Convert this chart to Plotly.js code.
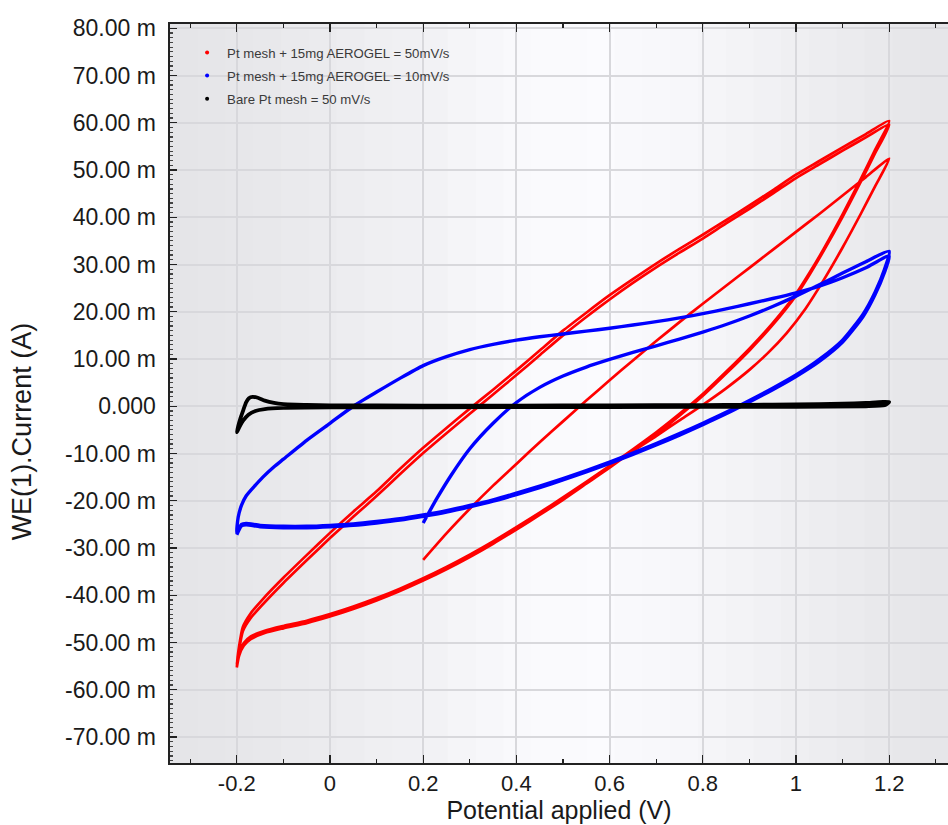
<!DOCTYPE html>
<html>
<head>
<meta charset="utf-8">
<script src="https://cdn.plot.ly/plotly-3.0.1.min.js"></script>
<style>
html,body{margin:0;padding:0;background:#fff;}
#chart{width:948px;height:825px;}
</style>
</head>
<body>
<div id="chart"></div>
<script>
// ---------- DATA (current in mA, potential in V) ----------
const seriesNames = [
  "Pt mesh + 15mg AEROGEL = 50mV/s",
  "Pt mesh + 15mg AEROGEL = 10mV/s",
  "Bare Pt mesh = 50 mV/s"
];

// Red: Pt mesh + aerogel, 50 mV/s (scan order)
const redX = [
  // scan 1 forward from 0.2
  0.2,0.25,0.3,0.35,0.4,0.45,0.5,0.55,0.6,0.65,0.7,0.75,0.8,0.85,0.9,0.95,1.0,1.05,1.1,1.15,1.2,
  // reverse 1
  1.17,1.14,1.1,1.06,1.02,0.98,0.94,0.9,0.85,0.8,0.75,0.7,0.65,
  0.6,0.55,0.5,0.45,0.4,0.35,0.3,0.25,0.2,0.15,0.1,0.05,0,-0.05,-0.1,-0.14,-0.17,-0.185,-0.195,-0.2,
  // forward A
  -0.195,-0.187,-0.17,-0.144,-0.1,-0.05,0,0.05,0.1,0.15,0.2,0.25,0.3,0.35,0.4,0.45,0.5,0.55,0.6,0.65,0.7,0.75,0.8,0.85,0.9,0.95,1.0,1.05,1.1,1.15,1.2,
  // reverse A
  1.17,1.14,1.1,1.06,1.03,1.0,0.95,0.9,0.85,0.8,0.75,0.7,0.65,
  0.6,0.55,0.5,0.45,0.4,0.35,0.3,0.25,0.2,0.15,0.1,0.05,0,-0.05,-0.1,-0.14,-0.17,-0.185,-0.195,-0.2,
  // forward B
  -0.195,-0.187,-0.17,-0.144,-0.1,-0.05,0,0.05,0.1,0.15,0.2,0.25,0.3,0.35,0.4,0.45,0.5,0.55,0.6,0.65,0.7,0.75,0.8,0.85,0.9,0.95,1.0,1.05,1.1,1.15,1.2,
  // reverse B
  1.17,1.14,1.1,1.06,1.03,1.0,0.95,0.9,0.85,0.8,0.75,0.7,0.65,
  0.6,0.55,0.5,0.45,0.4,0.35,0.3,0.25,0.2,0.15,0.1,0.05,0,-0.05,-0.1,-0.14,-0.17,-0.185,-0.195,-0.2
];
const redY = [
  -32.5,-26.9,-21.7,-16.8,-12.2,-7.6,-3.2,1.2,5.5,9.7,13.8,17.8,21.7,25.5,29.3,33.1,36.9,40.7,44.6,48.5,52.4,
  46.6,40.9,33.6,26.8,20.6,15.5,11.3,7.7,3.8,0.3,-3.0,-6.3,-9.5,
  -12.9,-16.3,-19.6,-22.8,-25.9,-28.9,-31.7,-34.3,-36.7,-38.9,-40.9,-42.7,-44.3,-45.7,-46.8,-47.8,-49.0,-50.4,-52.4,-55.0,
  -50.8,-46.7,-43.8,-40.8,-36.3,-31.5,-26.8,-22.3,-18.0,-13.3,-8.8,-4.6,-0.5,3.5,7.6,11.8,16.0,19.8,23.5,26.9,30.2,33.3,36.3,39.4,42.5,45.7,49.0,51.9,54.8,57.6,60.4,
  54.3,48.3,40.6,33.4,28.4,23.8,17.6,12.2,7.3,2.6,-1.6,-5.5,-9.1,
  -12.6,-16.0,-19.3,-22.5,-25.6,-28.6,-31.4,-34.0,-36.4,-38.6,-40.6,-42.4,-44.0,-45.4,-46.5,-47.5,-48.7,-50.1,-52.1,-54.6,
  -51.5,-47.6,-44.8,-41.9,-37.4,-32.6,-27.9,-23.4,-19.0,-14.4,-9.9,-5.7,-1.6,2.5,6.6,10.8,15.0,18.9,22.6,26.1,29.4,32.5,35.5,38.7,41.8,45.0,48.3,51.2,54.1,56.9,59.6,
  53.6,47.7,40.1,33.0,28.0,23.4,17.2,11.8,6.9,2.2,-2.0,-5.9,-9.4,
  -13.0,-16.4,-19.8,-23.0,-26.1,-29.1,-31.9,-34.5,-36.9,-39.1,-41.1,-42.9,-44.5,-45.9,-47.0,-48.0,-49.3,-50.7,-52.8,-55.3
];

// Blue: Pt mesh + aerogel, 10 mV/s (scan order)
const blueX = [
  0.2,0.21,0.23,0.26,0.3,0.35,0.4,0.45,0.5,0.55,0.6,0.65,0.7,0.75,0.8,0.85,0.9,0.95,1.0,1.05,1.1,1.15,1.2,
  1.19,1.17,1.144,1.1,1.05,1.0,0.95,0.9,0.85,0.8,0.75,0.7,0.65,0.6,0.55,0.5,0.45,0.4,0.35,0.3,0.25,0.2,0.15,0.1,0.05,0,-0.05,-0.1,-0.15,-0.18,-0.19,-0.2,
  -0.197,-0.19,-0.18,-0.16,-0.144,-0.12,-0.1,-0.05,0,0.05,0.1,0.15,0.2,0.25,0.3,0.35,0.4,0.45,0.5,0.55,0.6,0.65,0.7,0.75,0.8,0.85,0.9,0.95,1.0,1.05,1.1,1.15,1.2,
  1.19,1.17,1.144,1.1,1.05,1.0,0.95,0.9,0.85,0.8,0.75,0.7,0.65,0.6,0.55,0.5,0.45,0.4,0.35,0.3,0.25,0.2,0.15,0.1,0.05,0,-0.05,-0.1,-0.15,-0.18,-0.19,-0.2
];
const blueY = [
  -24.7,-22.9,-19.4,-14.6,-9.0,-3.6,0.8,4.0,6.4,8.3,9.9,11.4,12.8,14.2,15.7,17.3,19.1,21.1,23.3,25.7,28.2,30.6,32.8,
  29.0,24.2,19.5,14.0,9.9,6.6,3.8,1.2,-1.3,-3.6,-5.8,-7.9,-9.9,-11.8,-13.6,-15.3,-16.9,-18.4,-19.8,-21.0,-22.1,-23.0,-23.8,-24.4,-24.9,-25.2,-25.4,-25.4,-25.2,-24.8,-25.0,-26.8,
  -23.5,-21.0,-19.0,-16.7,-15.0,-12.8,-11.2,-7.2,-3.6,0.0,3.0,5.9,8.6,10.5,12.0,13.1,14.0,14.7,15.3,15.9,16.5,17.2,17.9,18.7,19.6,20.6,21.7,22.8,24.0,25.4,27.2,29.3,31.8,
  28.4,23.7,19.0,13.6,9.5,6.3,3.5,0.9,-1.6,-3.9,-6.1,-8.2,-10.2,-12.1,-13.9,-15.6,-17.2,-18.7,-20.1,-21.3,-22.4,-23.3,-24.1,-24.7,-25.2,-25.5,-25.7,-25.7,-25.5,-25.1,-25.3,-27.2
];

// Black: bare Pt mesh, 50 mV/s
const blackX = [
  -0.2,-0.197,-0.192,-0.186,-0.18,-0.174,-0.166,-0.155,-0.14,-0.12,-0.1,-0.05,0,0.2,0.4,0.6,0.8,0.9,1.0,1.1,1.15,1.2,
  1.19,1.15,1.0,0.8,0.4,0,-0.1,-0.14,-0.16,-0.175,-0.186,-0.195,-0.2
];
const blackY = [
  -5.5,-4.2,-2.5,-0.8,0.8,1.7,2.0,1.8,1.2,0.7,0.45,0.3,0.2,0.15,0.15,0.2,0.25,0.3,0.4,0.55,0.7,0.9,
  0.2,0.0,-0.1,-0.15,-0.2,-0.25,-0.35,-0.6,-1.0,-1.8,-3.0,-4.5,-5.5
];

// Axis ticks
const yTickVals = [80,70,60,50,40,30,20,10,0,-10,-20,-30,-40,-50,-60,-70];
const yTickText = ["80.00 m","70.00 m","60.00 m","50.00 m","40.00 m","30.00 m","20.00 m","10.00 m","0.000",
  "-10.00 m","-20.00 m","-30.00 m","-40.00 m","-50.00 m","-60.00 m","-70.00 m"];
const xTickVals = [-0.2,0,0.2,0.4,0.6,0.8,1,1.2];
const xTickText = ["-0.2","0","0.2","0.4","0.6","0.8","1","1.2"];

const colors = ["#ff0000","#0000ff","#000000"];

// ---------- background vertical gradient bands (style only) ----------
const shapes = [];
const nb = 28;
function shade(t){
  const pts = [[0,229],[0.12,232],[0.3,240],[0.45,249],[0.55,251],[0.68,246],[0.82,238],[0.95,231],[1,229]];
  for (let i=0;i<pts.length-1;i++){
    if (t>=pts[i][0] && t<=pts[i+1][0]){
      const f=(t-pts[i][0])/(pts[i+1][0]-pts[i][0]);
      return pts[i][1]+f*(pts[i+1][1]-pts[i][1]);
    }
  }
  return 229;
}
for (let i=0;i<nb;i++){
  const t0=i/nb, t1=(i+1)/nb;
  const v=Math.round(shade((t0+t1)/2));
  shapes.push({type:'rect',xref:'paper',yref:'paper',x0:t0,x1:t1+0.002,y0:0,y1:1,
    fillcolor:`rgb(${v},${v},${Math.min(255,v+3)})`,line:{width:0},layer:'below'});
}

const traces = [];
// legend-only entries (dot symbols)
seriesNames.forEach((n,i)=>{
  traces.push({x:[null],y:[null],type:'scatter',mode:'markers',name:n,legendgroup:'g'+i,
    marker:{color:colors[i],size:4},showlegend:true,hoverinfo:'skip'});
});
traces.push({x:redX,y:redY,type:'scatter',mode:'lines',name:seriesNames[0],legendgroup:'g0',showlegend:false,
  line:{color:colors[0],width:2.7,shape:'spline',smoothing:0.6}});
traces.push({x:blueX,y:blueY,type:'scatter',mode:'lines',name:seriesNames[1],legendgroup:'g1',showlegend:false,
  line:{color:colors[1],width:3.4,shape:'spline',smoothing:0.6}});
traces.push({x:blackX,y:blackY,type:'scatter',mode:'lines',name:seriesNames[2],legendgroup:'g2',showlegend:false,
  line:{color:colors[2],width:3.8,shape:'spline',smoothing:0.5}});

const fontFam = 'Arial, "Liberation Sans", sans-serif';
const layout = {
  width:948,height:825,
  margin:{l:170,r:0,t:24,b:62},
  paper_bgcolor:'#ffffff',
  plot_bgcolor:'rgba(0,0,0,0)',
  shapes:shapes,
  showlegend:true,
  legend:{x:0.022,y:0.982,xanchor:'left',yanchor:'top',bgcolor:'rgba(0,0,0,0)',
    font:{family:fontFam,size:13.2,color:'#3a3a3a'},traceorder:'grouped',tracegroupgap:3,itemwidth:30},
  xaxis:{range:[-0.3433,1.3262],tickmode:'array',tickvals:xTickVals,ticktext:xTickText,
    ticks:'inside',ticklen:8,tickwidth:1.2,tickcolor:'#222',
    minor:{dtick:0.1,tick0:0,ticks:'inside',ticklen:4,tickcolor:'#222',showgrid:false},
    showline:true,linecolor:'#222',linewidth:1.6,mirror:'ticks',
    showgrid:true,gridcolor:'#d8d8dc',gridwidth:2,zeroline:false,
    tickfont:{family:fontFam,size:22,color:'#1a1a1a'},ticklabelstandoff:0,
    title:{text:'Potential applied (V)',font:{family:fontFam,size:25,color:'#1a1a1a'},standoff:2}},
  yaxis:{range:[-75.5,80.9],tickmode:'array',tickvals:yTickVals,ticktext:yTickText,
    ticks:'inside',ticklen:7,tickwidth:1.2,tickcolor:'#222',
    minor:{dtick:1,tick0:0,ticks:'inside',ticklen:3,tickcolor:'#444',showgrid:false},
    showline:true,linecolor:'#222',linewidth:1.6,mirror:false,
    showgrid:true,gridcolor:'#d8d8dc',gridwidth:2,zeroline:false,
    tickfont:{family:fontFam,size:23,color:'#1a1a1a'},ticklabelstandoff:8},
  annotations:[{text:'WE(1).Current (A)',xref:'paper',yref:'paper',x:-0.19,y:0.449,
    xanchor:'center',yanchor:'middle',textangle:-90,showarrow:false,
    font:{family:fontFam,size:27,color:'#1a1a1a'}}]
};
Plotly.newPlot('chart',traces,layout,{displayModeBar:false,staticPlot:true});
</script>
</body>
</html>
